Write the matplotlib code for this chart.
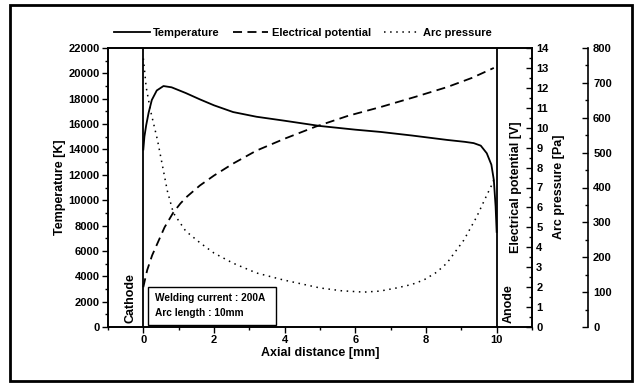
import matplotlib
matplotlib.use("Agg")
import matplotlib.pyplot as plt
import numpy as np
from matplotlib.ticker import MultipleLocator
from matplotlib.patches import Rectangle

plt.rcParams['font.family'] = ['Liberation Sans', 'DejaVu Sans']
plt.rcParams['font.weight'] = 'bold'
plt.rcParams['axes.labelweight'] = 'bold'

# Temperature [K]
temp_x = [0.0, 0.03, 0.08, 0.15, 0.24, 0.38, 0.57, 0.8, 1.2, 1.6, 2.0, 2.54, 3.2, 3.96, 5.0, 6.0, 6.72, 7.6, 8.6, 9.1, 9.35, 9.55, 9.72, 9.85, 9.92, 9.97, 10.0]
temp_y = [14000, 15000, 15900, 16900, 17900, 18650, 19000, 18900, 18450, 17950, 17480, 16950, 16580, 16280, 15850, 15560, 15380, 15100, 14750, 14600, 14500, 14300, 13700, 12800, 11590, 9500, 7500]

# Electrical potential [V]
volt_x = [0.0, 0.05, 0.11, 0.25, 0.4, 0.6, 0.85, 1.05, 1.24, 1.6, 2.0, 2.54, 3.2, 4.0, 4.87, 5.8, 6.72, 7.7, 8.6, 9.3, 9.92]
volt_y = [2.0, 2.4, 2.86, 3.6, 4.2, 5.0, 5.75, 6.2, 6.55, 7.1, 7.6, 8.2, 8.85, 9.45, 10.05, 10.6, 11.04, 11.55, 12.04, 12.5, 13.0]

# Arc pressure [Pa]
pres_x = [0.0, 0.04, 0.08, 0.2, 0.4, 0.68, 0.85, 1.2, 1.61, 2.0, 2.54, 3.2, 3.96, 5.0, 5.6, 6.24, 6.7, 7.17, 7.6, 7.94, 8.3, 8.59, 9.07, 9.43, 9.72, 9.85, 9.95]
pres_y = [770, 730, 688, 622, 536, 390, 327, 275, 241, 212, 183, 155, 135, 112, 104, 100, 103, 112, 122, 135, 157, 183, 249, 315, 378, 405, 430]

fig = plt.figure(figsize=(6.34, 3.85), dpi=100)
W, H = 634, 385
left, right, bottom, top = 108, 532, 327, 48
ax = fig.add_axes([left / W, 1 - bottom / H, (right - left) / W, (bottom - top) / H])

fs = 8
lfs = 9
ax.plot(temp_x, temp_y, color='black', lw=1.3, ls='-', label='Temperature')
ax.set_xlim(-1, 11)
ax.set_ylim(0, 22000)
ax.xaxis.set_major_locator(MultipleLocator(2))
ax.xaxis.set_minor_locator(MultipleLocator(1))
ax.yaxis.set_major_locator(MultipleLocator(2000))
ax.yaxis.set_minor_locator(MultipleLocator(1000))
ax.tick_params(which='both', direction='out', labelsize=fs, width=1, pad=2)
ax.tick_params(which='major', length=4)
ax.tick_params(which='minor', length=2)
for s in ax.spines.values():
    s.set_linewidth(1.2)
ax.set_xlabel('Axial distance [mm]', fontsize=lfs, labelpad=1)
ax.set_ylabel('Temperature [K]', fontsize=lfs, labelpad=2)

ax.axvline(0, color='black', lw=1.3)
ax.axvline(10, color='black', lw=1.3)
ax.text(-0.35, 300, 'Cathode', rotation=90, ha='center', va='bottom', fontsize=lfs)
ax.text(10.35, 300, 'Anode', rotation=90, ha='center', va='bottom', fontsize=lfs)

ax.add_patch(Rectangle((0.14, 180), 3.62, 3000, fill=False, lw=1.0, ec='black', zorder=5))
ax.text(0.32, 2300, 'Welding current : 200A', fontsize=7.3, va='center')
ax.text(0.32, 1100, 'Arc length : 10mm', fontsize=7.3, va='center')

# Electrical potential axis
ax2 = ax.twinx()
l2, = ax2.plot(volt_x, volt_y, color='black', lw=1.3, ls=(0, (5, 3)), label='Electrical potential')
ax2.set_ylim(0, 14)
ax2.yaxis.set_major_locator(MultipleLocator(1))
ax2.yaxis.set_minor_locator(MultipleLocator(0.5))
ax2.tick_params(which='both', direction='in', labelsize=fs, width=1, pad=3)
ax2.tick_params(which='major', length=4)
ax2.tick_params(which='minor', length=2)
for s in ax2.spines.values():
    s.set_linewidth(1.2)
fig.text(516 / W, 1 - 187 / H, 'Electrical potential [V]', rotation=90, ha='center', va='center', fontsize=lfs)

# Arc pressure axis
ax3 = ax.twinx()
ax3.spines['right'].set_position(('outward', 40))
for k in ['top', 'bottom', 'left']:
    ax3.spines[k].set_visible(False)
ax3.spines['right'].set_linewidth(1.2)
l3, = ax3.plot(pres_x, pres_y, color='black', lw=1.1, ls=(0, (1, 3)), label='Arc pressure')
ax3.set_ylim(0, 800)
ax3.yaxis.set_major_locator(MultipleLocator(100))
ax3.yaxis.set_minor_locator(MultipleLocator(50))
ax3.tick_params(which='both', direction='in', labelsize=fs, width=1, pad=4)
ax3.tick_params(which='major', length=4)
ax3.tick_params(which='minor', length=2)
fig.text(559 / W, 1 - 187 / H, 'Arc pressure [Pa]', rotation=90, ha='center', va='center', fontsize=lfs)

l1 = ax.get_lines()[0]
fig.legend([l1, l2, l3], ['Temperature', 'Electrical potential', 'Arc pressure'],
           loc='center', bbox_to_anchor=(303 / W, 1 - 33 / H), ncol=3, frameon=False,
           fontsize=8, handlelength=3.2, columnspacing=1.2, handletextpad=0.3)

fig.add_artist(Rectangle((10 / W, 1 - 381 / H), 622 / W, 376 / H, transform=fig.transFigure,
                         fill=False, lw=2, ec='black'))

fig.savefig('out.png', dpi=100)
